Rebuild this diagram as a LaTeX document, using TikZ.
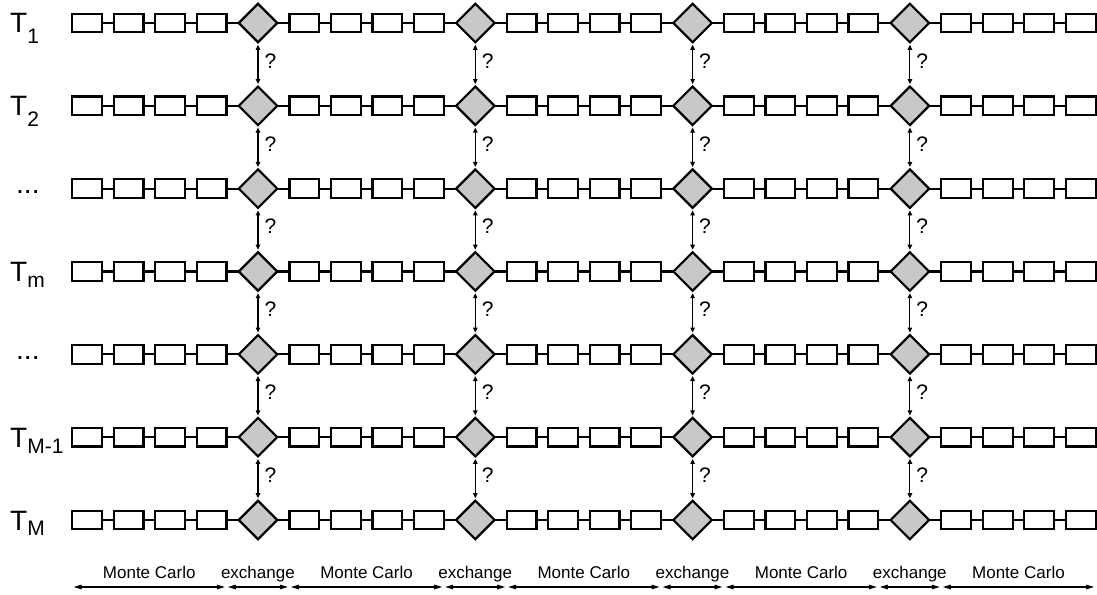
\documentclass[tikz,border=0pt]{standalone}
\usepackage{fontspec}
\setmainfont{Liberation Sans}
\usepackage{tikz}
\usetikzlibrary{shapes.geometric, arrows.meta, positioning, calc}
\usepackage{xcolor}
\definecolor{swapgray}{RGB}{200,200,200}
\newcommand{\tsub}[2]{T\raisebox{-#1pt}{\fontsize{21}{21}\selectfont #2}}

\begin{document}
\begin{tikzpicture}[x=1pt, y=-1pt,
  mcbox/.style={rectangle, draw, line width=2.2pt, minimum width=29.8pt, minimum height=18.6pt, inner sep=0pt, outer sep=0pt},
  swap/.style={diamond, draw, line width=2.2pt, fill=swapgray, minimum width=38.5pt, minimum height=38.5pt, inner sep=0pt, outer sep=0pt},
  link/.style={line width=2.2pt},
  query/.style={{Triangle[length=5pt,width=4.5pt]}-{Triangle[length=5pt,width=4.5pt]}, line width=1.1pt, shorten <=2.5pt, shorten >=2.5pt},
  phase/.style={{Triangle[length=8pt,width=4.5pt]}-{Triangle[length=8pt,width=4.5pt]}, line width=1.1pt, shorten <=1.5pt, shorten >=1.5pt},
  qlbl/.style={anchor=west, inner sep=0pt, xshift=6pt, yshift=3.5pt, font=\fontsize{21}{21}\selectfont},
  templbl/.style={anchor=base west, inner sep=0pt, font=\fontsize{28}{28}\selectfont},
  phaselbl/.style={anchor=base, inner sep=0pt, yshift=9pt, font=\fontsize{17}{17}\selectfont},
]
  \useasboundingbox (0,0) rectangle (1097,594);

  \foreach \r in {1,...,7} {
    \pgfmathsetmacro{\yy}{23+(\r-1)*82.83}
    \foreach \k in {0,...,4} {
      \foreach \j in {0,...,3} {
        \node[mcbox] (b-\r-\k-\j) at ({87+\k*217.3+\j*41.5}, \yy) {};
      }
      \foreach \j [evaluate=\j as \i using int(\j-1)] in {1,2,3} {
        \draw[link] (b-\r-\k-\i) -- (b-\r-\k-\j);
      }
    }
    \foreach \k [evaluate=\k as \n using int(\k+1)] in {0,...,3} {
      \node[swap] (x-\r-\k) at ({258+\k*217.3}, \yy) {};
      \draw[link] (b-\r-\k-3) -- (x-\r-\k);
      \draw[link] (x-\r-\k) -- (b-\r-\n-0);
    }
  }

  \foreach \r [evaluate=\r as \s using int(\r+1)] in {1,...,6} {
    \foreach \k in {0,...,3} {
      \draw[query] (x-\r-\k) -- node[qlbl] {?} (x-\s-\k);
    }
  }

  \node[templbl] (t-1) at (10, 32.5) {\tsub{11}{1}};
  \node[templbl] (t-2) at (10, 115.3) {\tsub{11}{2}};
  \node[templbl] (t-3) at (16, 193.7) {...};
  \node[templbl] (t-4) at (10, 281.5) {\tsub{6}{m}};
  \node[templbl] (t-5) at (16, 359.3) {...};
  \node[templbl] (t-6) at (10, 447.2) {\tsub{6}{M-1}};
  \node[templbl] (t-7) at (10, 530) {\tsub{5}{M}};

  \foreach \k in {0,...,4} {
    \coordinate (l-\k) at (b-7-\k-0.west |- 0,587);
    \coordinate (r-\k) at (b-7-\k-3.east |- 0,587);
    \draw[phase] (l-\k) -- node[phaselbl] {Monte Carlo} (r-\k);
  }
  \foreach \k [evaluate=\k as \n using int(\k+1)] in {0,...,3} {
    \draw[phase] (r-\k) -- node[phaselbl] {exchange} (l-\n);
  }
\end{tikzpicture}
\end{document}
